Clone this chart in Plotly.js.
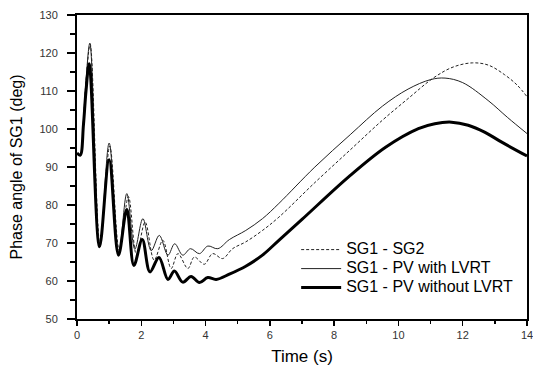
<!DOCTYPE html>
<html>
<head>
<meta charset="utf-8">
<script src="https://cdn.plot.ly/plotly-3.0.1.min.js"></script>
<style>
html,body{margin:0;padding:0;background:#fff;}
#chart{width:533px;height:371px;}
#chart .legendtext{font-size:16px !important;}
#chart g.legend, #chart g.legend *{clip-path:none !important;}
</style>
</head>
<body>
<div id="chart"></div>
<script>
// SG1 - SG2 (dashed)
const tSG2 = [0, 0.1, 0.2, 0.28, 0.41, 0.72, 1.02, 1.32, 1.6, 1.85, 2.12, 2.4, 2.67, 2.93, 3.14, 3.45, 3.65, 3.96, 4.22, 4.53, 4.84, 5.25, 5.77, 6.28, 7.4, 8.5, 9.5, 10.3, 11.1, 11.7, 12.3, 12.8, 13.3, 13.7, 14];
const vSG2 = [93.7, 93.1, 102.3, 112.5, 122.3, 69.5, 95.5, 68, 82.2, 67, 75.5, 65.5, 70.7, 63.3, 67.2, 63.3, 66.3, 64.4, 67.2, 65.9, 68.5, 70.3, 73.3, 76.8, 85.9, 94.5, 102.3, 108, 113.5, 116.3, 117.4, 116.8, 114.3, 111.5, 108.5];
// SG1 - PV with LVRT (thin)
const tWith = [0, 0.1, 0.2, 0.28, 0.4, 0.71, 1.0, 1.3, 1.55, 1.8, 2.05, 2.31, 2.56, 2.83, 3.04, 3.29, 3.53, 3.81, 4.07, 4.38, 4.74, 5.25, 5.77, 6.28, 7.4, 8.5, 9.5, 10.3, 11.0, 11.45, 12.0, 12.79, 13.4, 14];
const vWith = [93.7, 93.1, 102.3, 112.8, 122.6, 69, 96.3, 67.5, 83, 68.4, 76.4, 68, 72, 66.8, 69.8, 66.8, 68.5, 67.2, 69.2, 68.5, 70.9, 73.3, 76.4, 80.4, 90, 98.5, 106, 110.5, 113, 113.4, 112.2, 107.5, 103, 98.8];
// SG1 - PV without LVRT (thick)
const tWithout = [0, 0.1, 0.2, 0.28, 0.38, 0.7, 1.0, 1.29, 1.55, 1.77, 2.03, 2.27, 2.55, 2.83, 3.03, 3.29, 3.55, 3.81, 4.07, 4.33, 4.74, 5.25, 5.77, 6.28, 7.0, 8.45, 9.6, 10.62, 11.13, 11.65, 12.17, 12.68, 13.2, 14];
const vWithout = [93.7, 93.1, 101, 110, 117.2, 69, 91.9, 66.8, 78.8, 64.1, 70.9, 62.4, 66.2, 60.4, 62.6, 59.7, 61.2, 59.6, 60.9, 60.4, 61.8, 63.9, 66.8, 70.7, 76.2, 87.4, 95.2, 100.1, 101.4, 101.8, 101, 99.2, 96.6, 92.9];

const names = ["SG1 - SG2", "SG1 - PV with LVRT", "SG1 - PV without LVRT"];
const xTicks = [0, 2, 4, 6, 8, 10, 12, 14];
const yTicks = [50, 60, 70, 80, 90, 100, 110, 120, 130];

const FONT = 'Liberation Sans, Arial, sans-serif';

const traces = [
  {x: tSG2, y: vSG2, name: names[0], mode: 'lines', line: {color: '#222', width: 1, dash: '3px,2px', shape: 'spline', smoothing: 1}},
  {x: tWith, y: vWith, name: names[1], mode: 'lines', line: {color: '#222', width: 1, shape: 'spline', smoothing: 1}},
  {x: tWithout, y: vWithout, name: names[2], mode: 'lines', line: {color: '#000', width: 3, shape: 'spline', smoothing: 1}}
];

const axisCommon = {
  showgrid: false, zeroline: false, showline: true, linecolor: '#000', linewidth: 2, mirror: true,
  ticks: 'outside', tickwidth: 1.5, tickcolor: '#000', ticklabeloverflow: 'allow',
  tickfont: {family: FONT, size: 11, color: '#333'}
};

const layout = {
  width: 533, height: 371,
  margin: {l: 77, r: 6, t: 15, b: 52},
  paper_bgcolor: '#fff', plot_bgcolor: '#fff',
  showlegend: true,
  legend: {x: 0.487, y: 0.276, xanchor: 'left', yanchor: 'top', bgcolor: 'rgba(0,0,0,0)', itemwidth: 40,
    font: {family: FONT, size: 12, color: '#000'}, tracegroupgap: 0},
  xaxis: Object.assign({}, axisCommon, {
    range: [0, 14], tickvals: xTicks, ticktext: xTicks.map(String), ticklen: 5,
    minor: {dtick: 1, ticks: 'outside', ticklen: 3, tickwidth: 1.5, tickcolor: '#000'},
    title: {text: 'Time (s)', font: {family: FONT, size: 17, color: '#000'}, standoff: 10}
  }),
  yaxis: Object.assign({}, axisCommon, {
    range: [50, 130], tickvals: yTicks, ticktext: yTicks.map(String), ticklen: 8, ticklabelstandoff: 7,
    minor: {dtick: 5, ticks: 'outside', ticklen: 5, tickwidth: 1.5, tickcolor: '#000'},
    title: {text: 'Phase angle of SG1 (deg)', font: {family: FONT, size: 16, color: '#000'}, standoff: 13}
  })
};

Plotly.newPlot('chart', traces, layout, {displayModeBar: false, staticPlot: true});
</script>
</body>
</html>
